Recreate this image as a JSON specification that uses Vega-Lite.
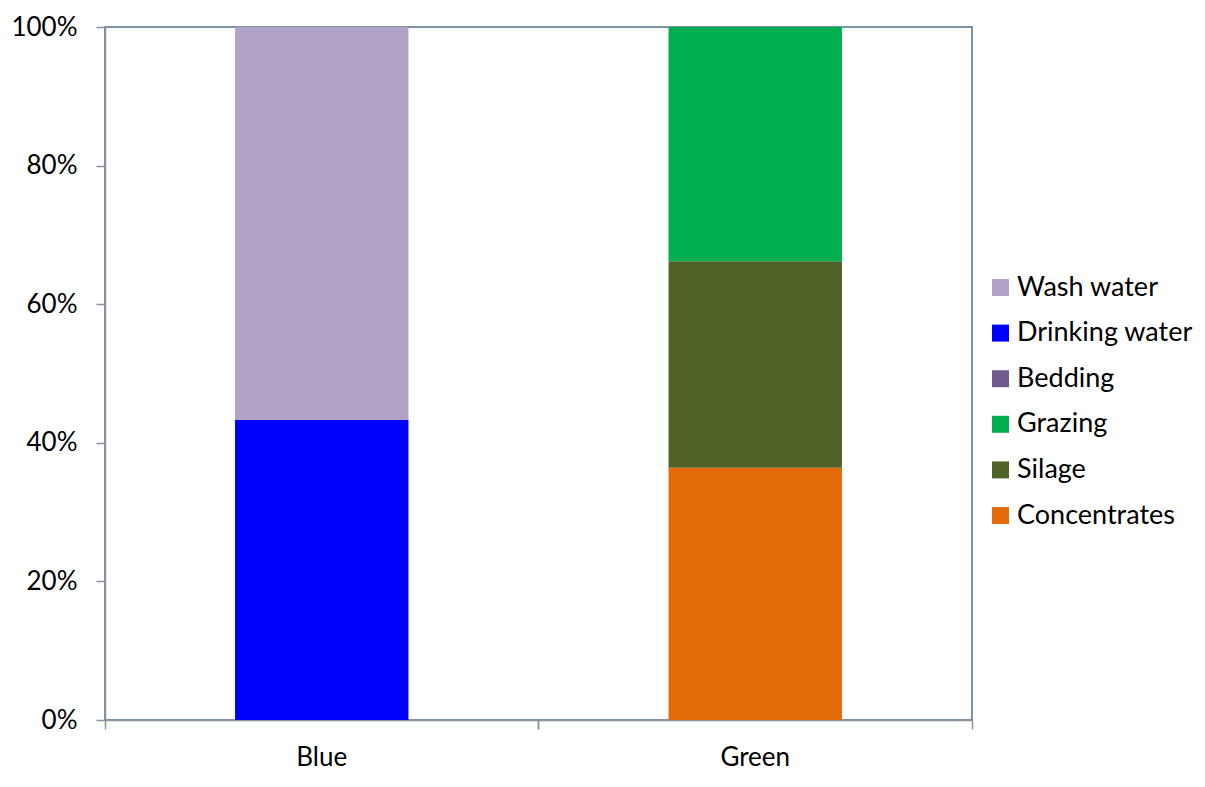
{
  "$schema": "https://vega.github.io/schema/vega-lite/v6.json",
  "width": 867,
  "height": 693,
  "autosize": {"type": "none"},
  "padding": {"left": 105, "top": 27, "right": 233, "bottom": 67},
  "background": "white",
  "config": {
    "font": "Lato",
    "view": {"stroke": "#4f6d8f", "strokeWidth": 1.5},
    "axis": {
      "domainColor": "#8a929c",
      "domainWidth": 1.5,
      "tickColor": "#8a929c",
      "tickWidth": 1.5,
      "tickSize": 9,
      "labelFont": "Lato",
      "labelFontSize": 26,
      "labelColor": "#000000",
      "grid": false,
      "title": null
    },
    "legend": {
      "labelFont": "Lato",
      "labelFontSize": 27,
      "labelColor": "#000000",
      "labelLimit": 400
    }
  },
  "data": {
    "values": [
      {"herd": "Blue", "source": "Drinking water", "share": 0.433, "rank": 5},
      {"herd": "Blue", "source": "Wash water", "share": 0.567, "rank": 6},
      {"herd": "Green", "source": "Concentrates", "share": 0.364, "rank": 1},
      {"herd": "Green", "source": "Silage", "share": 0.298, "rank": 2},
      {"herd": "Green", "source": "Grazing", "share": 0.338, "rank": 3},
      {"herd": "Green", "source": "Bedding", "share": 0, "rank": 4}
    ]
  },
  "layer": [
    {
      "mark": {"type": "bar", "width": {"band": 0.4}},
      "encoding": {
        "x": {
          "field": "herd",
          "type": "nominal",
          "sort": ["Blue", "Green"],
          "scale": {"paddingInner": 0, "paddingOuter": 0},
          "axis": {
            "orient": "bottom",
            "labelAngle": 0,
            "bandPosition": 0,
            "labelPadding": 15,
            "title": null
          }
        },
        "y": {
          "field": "share",
          "type": "quantitative",
          "stack": "zero",
          "scale": {"domain": [0, 1], "nice": false},
          "axis": {
            "format": ".0%",
            "values": [0, 0.2, 0.4, 0.6, 0.8, 1],
            "labelPadding": 19,
            "title": null
          }
        },
        "color": {
          "field": "source",
          "type": "nominal",
          "scale": {
            "domain": ["Wash water", "Drinking water", "Bedding", "Grazing", "Silage", "Concentrates"],
            "range": ["#b3a2c7", "#0000ff", "#72598f", "#00b050", "#4f6228", "#e36c09"]
          },
          "legend": {
            "title": null,
            "orient": "none",
            "legendX": 882,
            "legendY": 247,
            "symbolType": "square",
            "symbolSize": 289,
            "symbolStrokeWidth": 0,
            "symbolOpacity": 1,
            "rowPadding": 17.6,
            "labelOffset": 3
          }
        },
        "order": {"field": "rank", "type": "quantitative"}
      }
    },
    {
      "mark": {"type": "bar", "opacity": 0},
      "encoding": {
        "x": {
          "field": "herd",
          "type": "nominal",
          "sort": ["Blue", "Green"],
          "axis": {
            "orient": "bottom",
            "bandPosition": 1,
            "labels": false,
            "domain": false,
            "title": null
          }
        },
        "y": {"field": "share", "type": "quantitative", "stack": "zero"}
      }
    }
  ],
  "resolve": {"axis": {"x": "independent"}}
}
